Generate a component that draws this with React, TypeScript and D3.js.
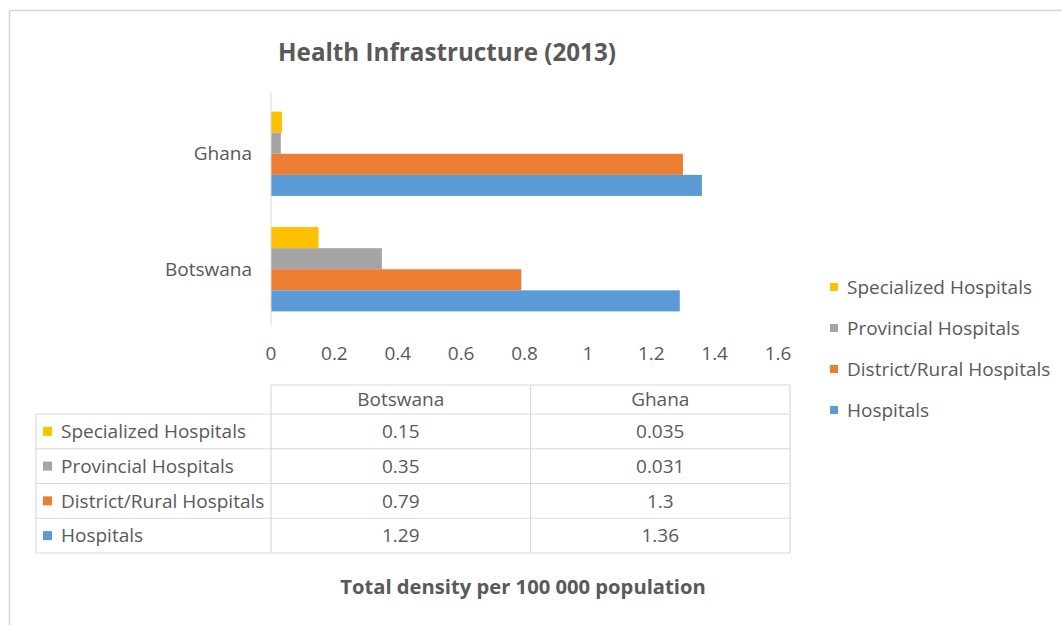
import React from "react";
import * as d3 from "d3";

const categories = ["Botswana", "Ghana"];
const seriesNames = [
  "Specialized Hospitals",
  "Provincial Hospitals",
  "District/Rural Hospitals",
  "Hospitals",
];
const specialized = [0.15, 0.035];
const provincial = [0.35, 0.031];
const districtRural = [0.79, 1.3];
const hospitals = [1.29, 1.36];
const seriesValues = [specialized, provincial, districtRural, hospitals];
const valueLabels = [
  ["0.15", "0.035"],
  ["0.35", "0.031"],
  ["0.79", "1.3"],
  ["1.29", "1.36"],
];
const seriesColors = ["#FFC000", "#A5A5A5", "#ED7D31", "#5B9BD5"];
const xTicks = [0, 0.2, 0.4, 0.6, 0.8, 1, 1.2, 1.4, 1.6];

const W = 1062;
const H = 625;
const FONT = "'Open Sans', 'Noto Sans', sans-serif";
const TEXT = "#595959";
const LINE = "#D9D9D9";
const FS = 19;

export default function App() {
  const x = d3.scaleLinear().domain([0, 1.6]).range([271, 778]);
  // Excel draws the first category at the bottom
  const y = d3
    .scaleBand<string>()
    .domain([...categories].reverse())
    .range([96, 327])
    .paddingInner(0.27)
    .paddingOuter(0.135);
  const yInner = d3
    .scaleBand<string>()
    .domain(seriesNames)
    .range([0, y.bandwidth()])
    .padding(0);

  // data table geometry
  const tableCols = d3
    .scaleBand<string>()
    .domain(categories)
    .range([271, 790]);
  const tableLeft = 36;
  const headerTop = 385;
  const rowTop = 414;
  const rowH = 34.75;
  const rows = d3.range(seriesNames.length + 1).map((i) => rowTop + i * rowH);
  const tableBottom = rows[rows.length - 1];

  const legendY = d3
    .scalePoint<string>()
    .domain(seriesNames)
    .range([287, 410]);

  return (
    <svg
      width={W}
      height={H}
      style={{ position: "absolute", left: 0, top: 0, background: "#fff" }}
      fontFamily={FONT}
    >
      <rect x={0} y={0} width={W} height={H} fill="#fff" />
      {/* chart border */}
      <line x1={9.5} y1={10.5} x2={W} y2={10.5} stroke="#D4D4D4" strokeWidth={1.5} />
      <line x1={9.5} y1={10.5} x2={9.5} y2={H} stroke="#D4D4D4" strokeWidth={1.5} />

      {/* title */}
      <text
        x={447}
        y={61}
        textAnchor="middle"
        fontSize={24.2}
        fontWeight="bold"
        fill={TEXT}
      >
        Health Infrastructure (2013)
      </text>

      {/* bars */}
      {categories.map((cat, ci) => (
        <g key={cat} transform={`translate(0,${y(cat)})`}>
          {seriesNames.map((s, si) => (
            <rect
              key={s}
              x={x(0)}
              y={yInner(s)}
              width={x(seriesValues[si][ci]) - x(0)}
              height={yInner.bandwidth()}
              fill={seriesColors[si]}
            />
          ))}
        </g>
      ))}

      {/* vertical category axis */}
      <line x1={x(0)} y1={93} x2={x(0)} y2={325} stroke={LINE} strokeWidth={1} />
      {categories.map((cat) => (
        <text
          key={cat}
          x={252}
          y={(y(cat) as number) + y.bandwidth() / 2}
          dy="0.35em"
          textAnchor="end"
          fontSize={FS}
          fill={TEXT}
        >
          {cat}
        </text>
      ))}

      {/* value axis tick labels */}
      {xTicks.map((t) => (
        <text
          key={t}
          x={x(t)}
          y={360}
          textAnchor="middle"
          fontSize={FS}
          fill={TEXT}
        >
          {d3.format("~g")(t)}
        </text>
      ))}

      {/* data table */}
      <g stroke={LINE} strokeWidth={1.2}>
        <line x1={271} y1={headerTop} x2={790} y2={headerTop} />
        {rows.map((ry, i) => (
          <line key={i} x1={tableLeft} y1={ry} x2={790} y2={ry} />
        ))}
        <line x1={tableLeft} y1={rowTop} x2={tableLeft} y2={tableBottom} />
        {categories.map((c) => (
          <line
            key={c}
            x1={tableCols(c)}
            y1={headerTop}
            x2={tableCols(c)}
            y2={tableBottom}
          />
        ))}
        <line x1={790} y1={headerTop} x2={790} y2={tableBottom} />
      </g>
      {categories.map((c) => (
        <text
          key={c}
          x={(tableCols(c) as number) + tableCols.bandwidth() / 2}
          y={(headerTop + rowTop) / 2}
          dy="0.35em"
          textAnchor="middle"
          fontSize={FS}
          fill={TEXT}
        >
          {c}
        </text>
      ))}
      {seriesNames.map((s, si) => (
        <g key={s}>
          <rect
            x={43}
            y={rows[si] + rowH / 2 - 4.5}
            width={9}
            height={9}
            fill={seriesColors[si]}
          />
          <text
            x={61}
            y={rows[si] + rowH / 2}
            dy="0.35em"
            fontSize={FS}
            fill={TEXT}
          >
            {s}
          </text>
          {categories.map((c, ci) => (
            <text
              key={c}
              x={(tableCols(c) as number) + tableCols.bandwidth() / 2}
              y={rows[si] + rowH / 2}
              dy="0.35em"
              textAnchor="middle"
              fontSize={FS}
              fill={TEXT}
            >
              {valueLabels[si][ci]}
            </text>
          ))}
        </g>
      ))}

      {/* axis title */}
      <text
        x={523}
        y={594}
        textAnchor="middle"
        fontSize={20.2}
        fontWeight="bold"
        fill={TEXT}
      >
        Total density per 100 000 population
      </text>

      {/* legend */}
      {seriesNames.map((s, si) => (
        <g key={s} transform={`translate(0,${legendY(s)})`}>
          <rect x={830} y={-4} width={8} height={8} fill={seriesColors[si]} />
          <text x={847} y={0} dy="0.35em" fontSize={FS} fill={TEXT}>
            {s}
          </text>
        </g>
      ))}
    </svg>
  );
}
